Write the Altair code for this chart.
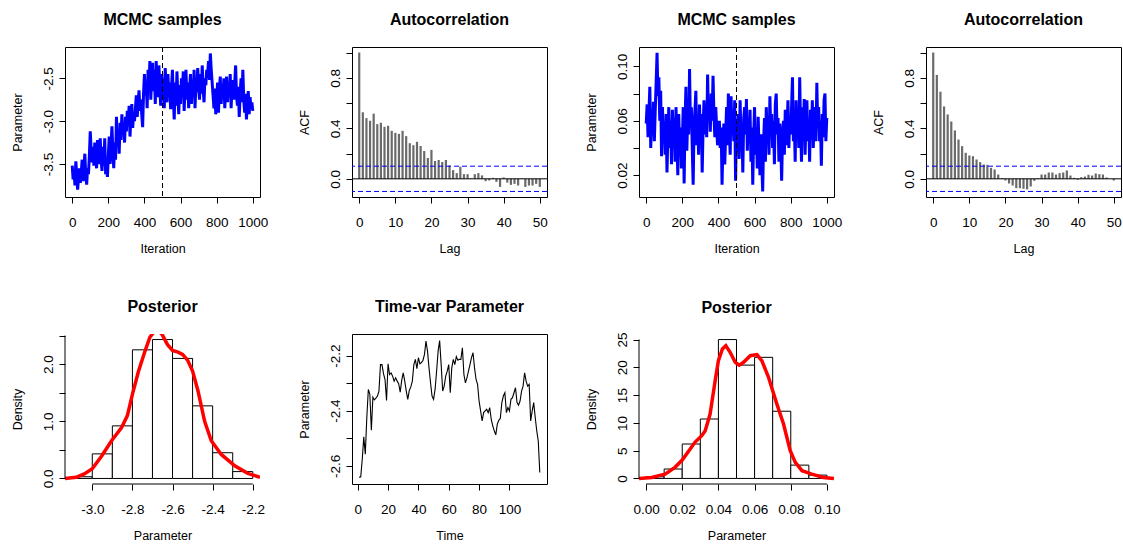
import altair as alt
import pandas as pd

FONT = "Liberation Sans"
W, H = 195, 150

# ---------------- data ----------------
TRACE_ITER = list(range(0, 1001, 5))
TRACE1 = [
    -3.52, -3.68, -3.58, -3.75, -3.47, -3.62, -3.80, -3.66, -3.55, -3.72,
    -3.60, -3.45, -3.70, -3.52, -3.38, -3.64, -3.74, -3.55, -3.62, -3.40,
    -3.12, -3.35, -3.48, -3.30, -3.52, -3.25, -3.42, -3.55, -3.22, -3.40,
    -3.50, -3.20, -3.45, -3.58, -3.30, -3.52, -3.20, -3.62, -3.48, -3.65,
    -3.40, -3.18, -3.50, -3.28, -3.06, -3.35, -3.55, -3.25, -3.45, -2.95,
    -3.30, -3.10, -3.38, -3.02, -3.22, -2.92, -3.15, -3.05, -3.25, -2.95,
    -3.12, -2.88, -3.05, -2.82, -3.18, -2.95, -2.80, -3.08, -2.90, -3.00,
    -2.85, -2.70, -2.95, -2.78, -2.64, -2.88, -2.75, -2.92, -3.07, -2.68,
    -2.45, -2.70, -2.55, -2.85, -2.40, -2.62, -2.30, -2.75, -2.50, -2.32,
    -2.65, -2.40, -2.80, -2.30, -2.55, -2.72, -2.35, -2.60, -2.82, -2.45,
    -2.70, -2.50, -2.85, -2.38, -2.62, -2.78, -2.45, -2.68, -2.55, -2.86,
    -2.60, -2.40, -2.75, -2.98, -2.55, -2.82, -2.42, -2.70, -2.92, -2.58,
    -2.80, -2.50, -2.68, -2.42, -2.88, -2.60, -2.40, -2.75, -2.55, -2.85,
    -2.62, -2.45, -2.80, -2.55, -2.70, -2.40, -2.85, -2.58, -2.66, -2.38,
    -2.60, -2.75, -2.45, -2.68, -2.35, -2.62, -2.78, -2.50, -2.58, -2.40,
    -2.45, -2.30, -2.52, -2.21, -2.40, -2.55, -2.70, -2.85, -2.62, -2.92,
    -2.75, -2.55, -2.90, -2.62, -2.48, -2.80, -2.58, -2.70, -2.50, -2.85,
    -2.62, -2.48, -2.78, -2.55, -2.70, -2.45, -2.85, -2.60, -2.52, -2.75,
    -2.55, -2.35, -2.70, -2.82, -2.60, -2.95, -2.68, -2.50, -2.78, -2.40,
    -2.75, -2.90, -2.68, -2.98, -2.80, -2.65, -2.92, -2.72, -2.85, -2.78,
    -2.88,
]
TRACE2 = [
    0.058, 0.072, 0.048, 0.066, 0.085, 0.040, 0.062, 0.050, 0.074, 0.045,
    0.068, 0.088, 0.110, 0.078, 0.092, 0.060, 0.082, 0.034, 0.070, 0.045,
    0.058, 0.035, 0.065, 0.022, 0.050, 0.070, 0.040, 0.060, 0.028, 0.068,
    0.048, 0.062, 0.030, 0.070, 0.045, 0.020, 0.065, 0.040, 0.055, 0.025,
    0.045, 0.070, 0.014, 0.060, 0.085, 0.038, 0.065, 0.050, 0.098, 0.055,
    0.070, 0.040, 0.013, 0.058, 0.068, 0.082, 0.042, 0.062, 0.035, 0.072,
    0.045, 0.065, 0.022, 0.055, 0.075, 0.050, 0.068, 0.048, 0.094, 0.060,
    0.072, 0.052, 0.080, 0.060, 0.093, 0.065, 0.048, 0.070, 0.055, 0.042,
    0.050, 0.060, 0.040, 0.055, 0.013, 0.045, 0.058, 0.028, 0.050, 0.070,
    0.042, 0.080, 0.055, 0.035, 0.078, 0.050, 0.065, 0.045, 0.075, 0.016,
    0.060, 0.040, 0.065, 0.032, 0.075, 0.045, 0.055, 0.022, 0.062, 0.070,
    0.050, 0.076, 0.038, 0.060, 0.045, 0.068, 0.030, 0.055, 0.013, 0.048,
    0.070, 0.035, 0.052, 0.025, 0.063, 0.040, 0.020, 0.050, 0.030, 0.008,
    0.045, 0.062, 0.030, 0.070, 0.048, 0.058, 0.035, 0.078, 0.050, 0.065,
    0.040, 0.060, 0.028, 0.072, 0.080, 0.050, 0.062, 0.030, 0.058, 0.045,
    0.016, 0.048, 0.060, 0.035, 0.068, 0.042, 0.055, 0.075, 0.040, 0.062,
    0.050, 0.070, 0.092, 0.045, 0.060, 0.030, 0.075, 0.050, 0.065, 0.040,
    0.092, 0.055, 0.030, 0.070, 0.048, 0.076, 0.035, 0.062, 0.075, 0.045,
    0.060, 0.030, 0.068, 0.050, 0.075, 0.040, 0.058, 0.070, 0.045, 0.088,
    0.055, 0.070, 0.045, 0.060, 0.027, 0.065, 0.048, 0.075, 0.080, 0.045,
    0.062,
]
BURNIN = [500]

LAGS = list(range(0, 51))
ACF1 = [1.0, 0.527, 0.481, 0.46, 0.516, 0.433, 0.444, 0.412, 0.42, 0.38,
        0.364, 0.356, 0.38, 0.338, 0.282, 0.266, 0.293, 0.26, 0.22, 0.165,
        0.229, 0.141, 0.149, 0.133, 0.149, 0.106, 0.069, 0.045, 0.096, 0.037,
        0.037, 0.003, 0.037, 0.045, 0.027, -0.019, -0.013, 0.008, -0.024, -0.064,
        0.011, -0.03, -0.048, -0.04, -0.053, 0.003, -0.064, -0.053, -0.053, -0.04,
        -0.064]
ACF2 = [1.0, 0.823, 0.69, 0.573, 0.51, 0.454, 0.383, 0.311, 0.259, 0.206,
        0.185, 0.179, 0.153, 0.132, 0.113, 0.111, 0.087, 0.074, 0.034, 0.005,
        -0.013, -0.037, -0.053, -0.074, -0.074, -0.079, -0.084, -0.061, -0.016, 0.005,
        0.034, 0.034, 0.05, 0.05, 0.034, 0.045, 0.05, 0.066, 0.026, 0.008,
        -0.008, 0.013, 0.018, 0.032, 0.026, 0.042, 0.037, 0.034, 0.011, 0.0,
        -0.013]
CONF = [0.1, -0.1]

HIST1_LO = [-3.1, -3.0, -2.9, -2.8, -2.7, -2.6, -2.5, -2.4, -2.3]
HIST1_HI = [-3.0, -2.9, -2.8, -2.7, -2.6, -2.5, -2.4, -2.3, -2.2]
HIST1_D = [0.03, 0.43, 0.92, 2.25, 2.43, 2.10, 1.27, 0.45, 0.12]
DENS1_X = [-3.136, -3.08, -3.04, -3.0, -2.954, -2.904, -2.854, -2.825, -2.80, -2.77,
           -2.738, -2.713, -2.68, -2.652, -2.625, -2.60, -2.573, -2.55, -2.525, -2.50,
           -2.473, -2.44, -2.407, -2.357, -2.29, -2.225, -2.164]
DENS1_Y = [0.0, 0.02, 0.08, 0.17, 0.39, 0.66, 0.89, 1.10, 1.47, 1.87,
           2.22, 2.47, 2.62, 2.52, 2.34, 2.24, 2.21, 2.17, 2.07, 1.88,
           1.53, 1.0, 0.66, 0.42, 0.22, 0.09, 0.02]

TIME = list(range(1, 121))
TVP = [-2.642, -2.640, -2.576, -2.495, -2.558, -2.425, -2.323, -2.341, -2.471, -2.351,
       -2.361, -2.355, -2.347, -2.329, -2.233, -2.233, -2.266, -2.287, -2.363, -2.230,
       -2.269, -2.263, -2.275, -2.293, -2.281, -2.293, -2.302, -2.333, -2.290, -2.263,
       -2.293, -2.329, -2.359, -2.327, -2.314, -2.293, -2.233, -2.214, -2.248, -2.208,
       -2.230, -2.226, -2.218, -2.196, -2.148, -2.184, -2.245, -2.299, -2.347, -2.359,
       -2.323, -2.257, -2.184, -2.146, -2.233, -2.329, -2.311, -2.275, -2.257, -2.233,
       -2.335, -2.245, -2.214, -2.233, -2.204, -2.217, -2.214, -2.214, -2.172, -2.269,
       -2.299, -2.281, -2.257, -2.233, -2.208, -2.190, -2.245, -2.287, -2.305, -2.365,
       -2.401, -2.437, -2.407, -2.401, -2.395, -2.407, -2.389, -2.431, -2.455, -2.473,
       -2.488, -2.449, -2.435, -2.428, -2.371, -2.347, -2.335, -2.407, -2.389, -2.401,
       -2.359, -2.353, -2.335, -2.317, -2.371, -2.380, -2.365, -2.329, -2.311, -2.263,
       -2.293, -2.311, -2.305, -2.437, -2.401, -2.371, -2.425, -2.473, -2.510, -2.624]

HIST2_LO = [0.00, 0.01, 0.02, 0.03, 0.04, 0.05, 0.06, 0.07, 0.08, 0.09]
HIST2_HI = [0.01, 0.02, 0.03, 0.04, 0.05, 0.06, 0.07, 0.08, 0.09, 0.10]
HIST2_D = [0.3, 1.7, 6.2, 10.7, 25.0, 20.4, 21.8, 12.1, 2.4, 0.6]
DENS2_X = [-0.0039, 0.0031, 0.0105, 0.016, 0.020, 0.0244, 0.027, 0.0308, 0.0327, 0.0354,
           0.0382, 0.040, 0.0422, 0.0441, 0.0465, 0.0493, 0.0515, 0.0539, 0.0576, 0.0613,
           0.064, 0.0677, 0.0723, 0.076, 0.0797, 0.0825, 0.0862, 0.0917, 0.098, 0.1039]
DENS2_Y = [0.0, 0.18, 0.78, 2.0, 3.3, 5.3, 6.5, 7.7, 8.6, 11.6,
           17.6, 21.2, 23.3, 23.9, 22.7, 20.9, 20.4, 20.9, 22.1, 22.3,
           21.2, 18.2, 13.4, 9.8, 5.0, 2.9, 1.4, 0.78, 0.18, 0.0]

# tick values
IT_TICKS = [0, 200, 400, 600, 800, 1000]
T1_YT = [-3.5, -3.0, -2.5]
T2_YT = [0.02, 0.04, 0.06, 0.08, 0.10]
T2_SHOWN = ["0.02", "0.06", "0.10"]
LAG_TICKS = [0, 10, 20, 30, 40, 50]
ACF_YT = [0.0, 0.2, 0.4, 0.6, 0.8, 1.0]
ACF_SHOWN = ["0.0", "0.4", "0.8"]
P1_XT = [-3.0, -2.8, -2.6, -2.4, -2.2]
P1_YT = [0.0, 0.5, 1.0, 1.5, 2.0, 2.5]
P1_SHOWN = ["0.0", "1.0", "2.0"]
TV_XT = [0, 20, 40, 60, 80, 100]
TV_YT = [-2.6, -2.5, -2.4, -2.3, -2.2]
TV_SHOWN = ["-2.6", "-2.4", "-2.2"]
P2_XT = [0.00, 0.02, 0.04, 0.06, 0.08, 0.10]
P2_YT = [0, 5, 10, 15, 20, 25]

# ---------------- helpers ----------------
XLP, XTP = 12, 14
YLP, YTP = 4, 17


def lab_expr(fmt, shown=None):
    f = "replace(format(datum.value, '%s'), '\u2212', '-')" % fmt
    if shown is None:
        return f
    cond = " || ".join("%s == '%s'" % (f, s) for s in shown)
    return "(%s) ? %s : ''" % (cond, f)


def xaxis(title, ticks, fmt, shown=None):
    return alt.Axis(title=title, values=ticks, labelExpr=lab_expr(fmt, shown),
                    labelPadding=XLP, titlePadding=XTP, domain=False, grid=False,
                    labelFlush=False, labelOverlap=False, tickSize=6)


def yaxis(title, ticks, fmt, shown=None):
    return alt.Axis(title=title, values=ticks, labelExpr=lab_expr(fmt, shown),
                    labelAngle=270, labelAlign="center", labelBaseline="bottom",
                    labelPadding=YLP, titlePadding=YTP, domain=False, grid=False,
                    labelFlush=False, labelOverlap=False, tickSize=6)


def sc(lo, hi):
    return alt.Scale(domain=[lo, hi], nice=False, zero=False)


def title(t, offset=19):
    return alt.TitleParams(t, fontSize=16, fontWeight="bold", font=FONT,
                           anchor="middle", frame="group", offset=offset, color="black")


def trace_panel(vals, ydom, yticks, yfmt, yshown):
    df = pd.DataFrame({"it": TRACE_ITER, "val": vals})
    xs, ys = sc(-40, 1040), sc(*ydom)
    ax = xaxis("Iteration", IT_TICKS, "d")
    ay = yaxis("Parameter", yticks, yfmt, yshown)
    line = alt.Chart(df).mark_line(color="#0000FF", strokeWidth=3, clip=True).encode(
        x=alt.X("it:Q", scale=xs, axis=ax), y=alt.Y("val:Q", scale=ys, axis=ay))
    vline = alt.Chart(pd.DataFrame({"it": BURNIN})).mark_rule(
        color="black", strokeDash=[5, 3], strokeWidth=1).encode(
        x=alt.X("it:Q", scale=xs, axis=ax))
    return alt.layer(line, vline).properties(width=W, height=H, title=title("MCMC samples"))


def acf_panel(acf):
    df = pd.DataFrame({"lag": LAGS, "acf": acf})
    xs, ys = sc(-2, 52), sc(-0.144, 1.044)
    ax = xaxis("Lag", LAG_TICKS, "d")
    ay = yaxis("ACF", ACF_YT, ".1f", ACF_SHOWN)
    bars = alt.Chart(df).mark_rule(color="#6a6a6a", strokeWidth=2.2).encode(
        x=alt.X("lag:Q", scale=xs, axis=ax), y=alt.Y("acf:Q", scale=ys, axis=ay),
        y2=alt.datum(0))
    zero = alt.Chart(pd.DataFrame({"acf": [0.0]})).mark_rule(color="black", strokeWidth=1).encode(
        y=alt.Y("acf:Q", scale=ys, axis=ay))
    conf = alt.Chart(pd.DataFrame({"acf": CONF})).mark_rule(
        color="#0000FF", strokeDash=[5, 3], strokeWidth=1).encode(
        y=alt.Y("acf:Q", scale=ys, axis=ay))
    return alt.layer(bars, zero, conf).properties(width=W, height=H, title=title("Autocorrelation"))


def hist_panel(lo, hi, d, dx, dy, xdom, ydom, xt, xfmt, yt, yfmt, yshown, toff):
    xs, ys = sc(*xdom), sc(*ydom)
    ax = xaxis("Parameter", xt, xfmt)
    ay = yaxis("Density", yt, yfmt, yshown)
    hdf = pd.DataFrame({"lo": lo, "hi": hi, "d": d})
    bars = alt.Chart(hdf).mark_rect(fill="white", stroke="black", strokeWidth=1).encode(
        x=alt.X("lo:Q", scale=xs, axis=ax), x2="hi:Q",
        y=alt.Y("d:Q", scale=ys, axis=ay), y2=alt.datum(0))
    ddf = pd.DataFrame({"lo": dx, "d": dy})
    curve = alt.Chart(ddf).mark_line(color="#FF0000", strokeWidth=3.5, clip=True).encode(
        x=alt.X("lo:Q", scale=xs, axis=ax), y=alt.Y("d:Q", scale=ys, axis=ay))
    xl = alt.Chart(pd.DataFrame({"lo": [min(xt)], "hi": [max(xt)]})).mark_rule(
        color="black", strokeWidth=1).encode(
        x=alt.X("lo:Q", scale=xs, axis=ax), x2="hi:Q", y=alt.value(H))
    yl = alt.Chart(pd.DataFrame({"d": [min(yt)], "d2": [max(yt)]})).mark_rule(
        color="black", strokeWidth=1).encode(
        y=alt.Y("d:Q", scale=ys, axis=ay), y2="d2:Q", x=alt.value(0))
    return alt.layer(bars, curve, xl, yl).properties(
        width=W, height=H, title=title("Posterior", toff),
        view=alt.ViewBackground(stroke="transparent"))


def tv_panel():
    df = pd.DataFrame({"t": TIME, "v": TVP})
    xs, ys = sc(-3.76, 124.76), sc(-2.666, -2.122)
    return alt.Chart(df).mark_line(color="black", strokeWidth=1.1).encode(
        x=alt.X("t:Q", scale=xs, axis=xaxis("Time", TV_XT, "d")),
        y=alt.Y("v:Q", scale=ys, axis=yaxis("Parameter", TV_YT, ".1f", TV_SHOWN)),
    ).properties(width=W, height=H, title=title("Time-var Parameter"))


panels = [
    trace_panel(TRACE1, (-3.885, -2.135), T1_YT, ".1f", None),
    acf_panel(ACF1),
    trace_panel(TRACE2, (0.004, 0.1142), T2_YT, ".2f", T2_SHOWN),
    acf_panel(ACF2),
    hist_panel(HIST1_LO, HIST1_HI, HIST1_D, DENS1_X, DENS1_Y, (-3.136, -2.164), (-0.097, 2.527),
               P1_XT, ".1f", P1_YT, ".1f", P1_SHOWN, 19),
    tv_panel(),
    hist_panel(HIST2_LO, HIST2_HI, HIST2_D, DENS2_X, DENS2_Y, (-0.0039, 0.1039), (-1.0, 26.0),
               P2_XT, ".2f", P2_YT, "d", None, 16),
]

chart = alt.concat(
    *panels, columns=4, spacing={"row": 137, "column": 92}, bounds="flush"
).properties(
    padding={"left": 10, "top": 11, "right": 0, "bottom": 0}
).configure(
    font=FONT, background="white"
).configure_axis(
    labelFont=FONT, labelFontSize=13.5, labelColor="black",
    titleFont=FONT, titleFontSize=12.5, titleFontWeight="normal", titleColor="black",
    tickColor="black", tickWidth=1,
).configure_view(
    stroke="black", strokeWidth=1
)

chart.save("out.html", embed_options={"renderer": "svg", "actions": False})
